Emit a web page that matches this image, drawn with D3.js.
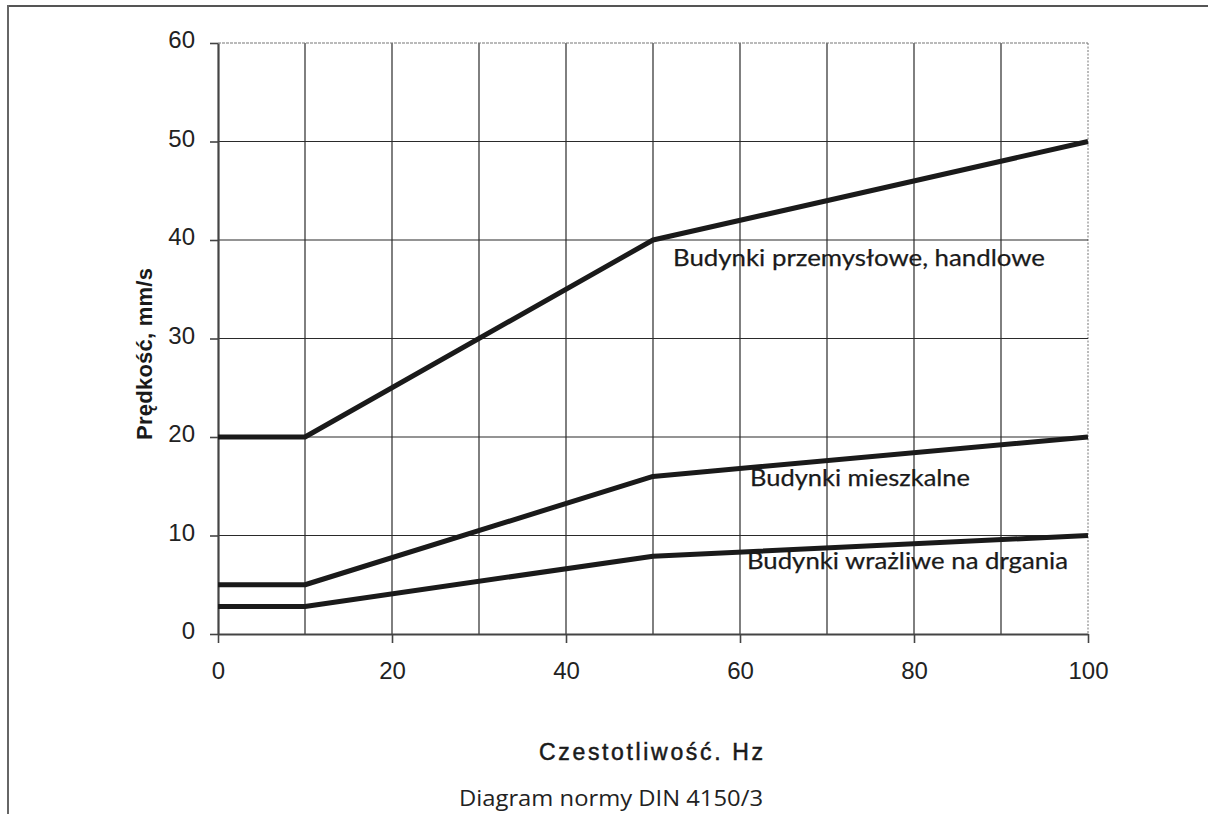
<!DOCTYPE html>
<html>
<head>
<meta charset="utf-8">
<script src="https://cdn.jsdelivr.net/npm/d3@7"></script>
<style>
  html, body { margin: 0; padding: 0; background: #fff; }
  svg { display: block; }
</style>
</head>
<body>
<svg id="chart" width="1208" height="814"></svg>
<script>
// ---- data ----
const frequencies = [0, 10, 50, 100];
const industrialValues = [20, 20, 40, 50];
const residentialValues = [5, 5, 16, 20];
const sensitiveValues = [2.8, 2.8, 7.9, 10];
const seriesNames = ["Budynki przemysłowe, handlowe", "Budynki mieszkalne", "Budynki wrażliwe na drgania"];
const xTickValues = [0, 20, 40, 60, 80, 100];
const yTickValues = [0, 10, 20, 30, 40, 50, 60];
const xGridValues = [10, 20, 30, 40, 50, 60, 70, 80, 90, 100];
const yGridValues = [10, 20, 30, 40, 50, 60];
const xAxisTitle = "Czestotliwość. Hz";
const yAxisTitle = "Prędkość, mm/s";
const caption = "Diagram normy DIN 4150/3";

const svg = d3.select("#chart");

// outer frame (top + left edges only)
svg.append("line").attr("x1", 8).attr("x2", 1208).attr("y1", 6).attr("y2", 6)
  .attr("stroke", "#555").attr("stroke-width", 2);
svg.append("line").attr("x1", 8).attr("x2", 8).attr("y1", 5).attr("y2", 814)
  .attr("stroke", "#666").attr("stroke-width", 2);

const x = d3.scaleLinear().domain([0, 100]).range([218, 1088]);
const y = d3.scaleLinear().domain([0, 60]).range([634, 43]);

// grid
const grid = svg.append("g");
grid.selectAll("line.v").data(xGridValues).join("line")
  .attr("x1", d => x(d)).attr("x2", d => x(d))
  .attr("y1", y(60)).attr("y2", y(0))
  .attr("stroke", d => d === 100 ? "#777" : "#2a2a2a")
  .attr("stroke-width", d => d === 100 ? 1 : 1.2)
  .attr("stroke-dasharray", d => d === 100 ? "2,1.5" : null);
grid.selectAll("line.h").data(yGridValues).join("line")
  .attr("x1", x(0)).attr("x2", x(100))
  .attr("y1", d => y(d)).attr("y2", d => y(d))
  .attr("stroke", d => d === 60 ? "#777" : "#2a2a2a")
  .attr("stroke-width", 1.2)
  .attr("stroke-dasharray", d => d === 60 ? "3,1" : null);

// axes
const tickFont = "'Liberation Sans', Arial, sans-serif";
const xAxis = d3.axisBottom(x).tickValues(xTickValues).tickSize(9).tickSizeOuter(0).tickPadding(19).tickFormat(d3.format("d"));
const gx = svg.append("g").attr("transform", `translate(0,${y(0)})`).call(xAxis);
const yAxis = d3.axisLeft(y).tickValues(yTickValues).tickSize(8).tickSizeOuter(0).tickPadding(15).tickFormat(d3.format("d"));
const gy = svg.append("g").attr("transform", `translate(${x(0)},0)`).call(yAxis);
[gx, gy].forEach(g => {
  g.select(".domain").attr("stroke", "#444").attr("stroke-width", 2.2);
  g.selectAll(".tick line").attr("stroke", "#444").attr("stroke-width", 1.6);
  g.selectAll(".tick text").attr("fill", "#222").style("font-family", tickFont).style("font-size", "24px");
});
gx.selectAll(".tick text").attr("dy", "0.71em");
gy.selectAll(".tick text").attr("dy", "0.2em");

// series lines
const line = d3.line().x(d => x(d[0])).y(d => y(d[1]));
const allSeries = [industrialValues, residentialValues, sensitiveValues];
svg.append("g").selectAll("path").data(allSeries).join("path")
  .attr("d", vals => line(frequencies.map((f, i) => [f, vals[i]])))
  .attr("fill", "none").attr("stroke", "#1a1a1a").attr("stroke-width", 5)
  .attr("stroke-linejoin", "round");

// series labels
const labelPos = [[673, 266, 372], [750, 486, 220], [747, 569, 321]];
svg.append("g").selectAll("text").data(seriesNames).join("text")
  .attr("x", (d, i) => labelPos[i][0]).attr("y", (d, i) => labelPos[i][1])
  .attr("textLength", (d, i) => labelPos[i][2]).attr("lengthAdjust", "spacingAndGlyphs")
  .attr("fill", "#1a1a1a").attr("stroke", "#1a1a1a").attr("stroke-width", 0.25)
  .style("font-family", "Lato, 'Open Sans', sans-serif").style("font-size", "24px")
  .text(d => d);

// axis titles
svg.append("text").attr("transform", `translate(152,354) rotate(-90)`)
  .attr("text-anchor", "middle").attr("fill", "#1a1a1a")
  .attr("textLength", 172).attr("lengthAdjust", "spacing")
  .style("font-family", tickFont).style("font-size", "22px").style("font-weight", "bold")
  .text(yAxisTitle);
svg.append("text").attr("x", 763).attr("y", 760).attr("text-anchor", "end")
  .attr("fill", "#1a1a1a").attr("stroke", "#1a1a1a").attr("stroke-width", 0.5)
  .attr("textLength", 224).attr("lengthAdjust", "spacing")
  .style("font-family", tickFont).style("font-size", "23px")
  .text(xAxisTitle);
svg.append("text").attr("x", 763).attr("y", 806).attr("text-anchor", "end")
  .attr("fill", "#222")
  .attr("textLength", 304).attr("lengthAdjust", "spacingAndGlyphs")
  .style("font-family", "'Open Sans', 'Noto Sans', sans-serif").style("font-size", "22px")
  .text(caption);
</script>
</body>
</html>
